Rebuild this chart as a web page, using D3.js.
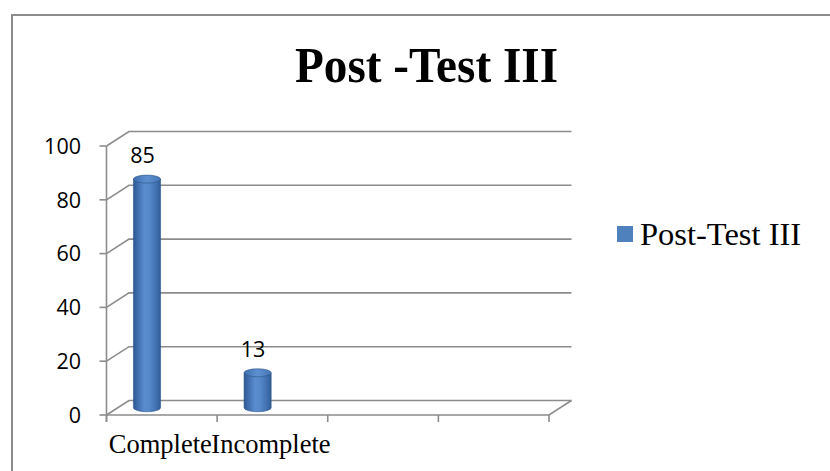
<!DOCTYPE html>
<html>
<head>
<meta charset="utf-8">
<script src="https://cdn.jsdelivr.net/npm/d3@7"></script>
<style>
  html, body { margin: 0; padding: 0; background: #ffffff; }
  svg { display: block; }
</style>
</head>
<body>
<svg id="chart" width="830" height="471"></svg>
<script>
// Data
const categories = ["Complete", "Incomplete", "", ""];
const values = [85, 13, null, null];
const yTicks = [0, 20, 40, 60, 80, 100];
const seriesName = "Post-Test III";
const titleText = "Post -Test III";

const svg = d3.select("#chart");

// Oblique 3D layout: front plane plus depth offset for the back wall
const left = 106.5, right = 549;
const depthX = 22.5, depthY = -14.5;
const gridColor = "#8c8c8c";

const y = d3.scaleLinear().domain([0, 100]).range([415, 146]);
const x = d3.scaleBand().domain(d3.range(categories.length)).range([left, right]).padding(0);
const bw = x.bandwidth();

// Outer frame
svg.append("rect")
  .attr("x", 12).attr("y", 15)
  .attr("width", 840).attr("height", 480)
  .attr("fill", "#ffffff")
  .attr("stroke", gridColor).attr("stroke-width", 2);

// Title
svg.append("text")
  .attr("x", 426.5).attr("y", 82)
  .attr("text-anchor", "middle")
  .attr("font-family", "'Liberation Serif', 'Times New Roman', serif")
  .attr("font-weight", "bold")
  .attr("font-size", 50)
  .attr("textLength", 263)
  .attr("lengthAdjust", "spacingAndGlyphs")
  .attr("fill", "#000")
  .text(titleText);

// Back wall gridlines with their diagonal connectors
const grid = svg.append("g")
  .attr("stroke", gridColor).attr("stroke-width", 1.6).attr("fill", "none");
yTicks.forEach(t => {
  const yy = y(t);
  grid.append("path")
    .attr("d", `M${left},${yy} L${left + depthX},${yy + depthY} L${right + depthX},${yy + depthY}`);
});
// Floor front edge and right diagonal
grid.append("path")
  .attr("d", `M${left},${y(0)} L${right},${y(0)} L${right + depthX},${y(0) + depthY}`);

// Value axis line and ticks
grid.append("line")
  .attr("x1", left).attr("x2", left)
  .attr("y1", y(100)).attr("y2", y(0) + 7);
yTicks.forEach(t => {
  grid.append("line")
    .attr("x1", left - 7).attr("x2", left)
    .attr("y1", y(t)).attr("y2", y(t));
});
// Category ticks
d3.range(categories.length + 1).forEach(i => {
  const xx = left + i * bw;
  grid.append("line")
    .attr("x1", xx).attr("x2", xx)
    .attr("y1", y(0)).attr("y2", y(0) + 7);
});

// Value tick labels
svg.append("g")
  .selectAll("text")
  .data(yTicks)
  .join("text")
  .attr("x", 81)
  .attr("y", d => y(d) + 2)
  .attr("text-anchor", "end")
  .attr("dominant-baseline", "middle")
  .attr("font-family", "'Open Sans', 'Liberation Sans', sans-serif")
  .attr("font-size", 21.5)
  .attr("fill", "#000")
  .text(d => d);

// Category labels
svg.append("g")
  .selectAll("text")
  .data(categories)
  .join("text")
  .attr("x", (d, i) => x(i) + bw / 2 - 1.5)
  .attr("y", 453)
  .attr("text-anchor", "middle")
  .attr("font-family", "'Liberation Serif', 'Times New Roman', serif")
  .attr("font-size", 26.5)
  .attr("fill", "#000")
  .text(d => d);

// Cylinder shading
const defs = svg.append("defs");
const grad = defs.append("linearGradient")
  .attr("id", "cyl").attr("x1", "0%").attr("x2", "100%").attr("y1", "0%").attr("y2", "0%");
[["0%", "#2d5a92"], ["18%", "#426fb0"], ["40%", "#5a8dcf"], ["60%", "#5587c9"], ["85%", "#3f6fad"], ["100%", "#2f5d97"]]
  .forEach(([o, c]) => grad.append("stop").attr("offset", o).attr("stop-color", c));
const topGrad = defs.append("linearGradient")
  .attr("id", "cyltop").attr("x1", "0%").attr("x2", "100%").attr("y1", "0%").attr("y2", "0%");
[["0%", "#3f6fae"], ["50%", "#5e8fcf"], ["100%", "#4676b5"]]
  .forEach(([o, c]) => topGrad.append("stop").attr("offset", o).attr("stop-color", c));

// Bars sit at mid-depth of the plot
const barCenterFrac = 0.366, barWidthFrac = 0.245;
const rx = bw * barWidthFrac / 2, ry = 4;
const barData = categories.map((c, i) => ({ c, v: values[i], i })).filter(d => d.v != null);
const bars = svg.append("g");
barData.forEach(d => {
  const cx = x(d.i) + bw * barCenterFrac;
  const yTop = y(d.v) + depthY / 2;
  const yBase = y(0) + depthY / 2;
  bars.append("path")
    .attr("d", `M${cx - rx},${yTop} L${cx - rx},${yBase} A${rx},${ry} 0 0 0 ${cx + rx},${yBase} L${cx + rx},${yTop} Z`)
    .attr("fill", "url(#cyl)")
    .attr("stroke", "#2c5588").attr("stroke-width", 0.6);
  bars.append("ellipse")
    .attr("cx", cx).attr("cy", yTop).attr("rx", rx).attr("ry", ry)
    .attr("fill", "url(#cyltop)")
    .attr("stroke", "#2c5588").attr("stroke-width", 0.6);
  // value label
  svg.append("text")
    .attr("x", cx - 4.5)
    .attr("y", yTop - 16)
    .attr("text-anchor", "middle")
    .attr("font-family", "'Open Sans', 'Liberation Sans', sans-serif")
    .attr("font-size", 21.5)
    .attr("fill", "#000")
    .text(d.v);
});

// Legend
const legend = svg.append("g");
legend.append("rect")
  .attr("x", 617).attr("y", 226)
  .attr("width", 16).attr("height", 16)
  .attr("fill", "#4f81bd");
legend.append("text")
  .attr("x", 640).attr("y", 245)
  .attr("font-family", "'Liberation Serif', 'Times New Roman', serif")
  .attr("font-size", 32.5)
  .attr("fill", "#000")
  .text(seriesName);
</script>
</body>
</html>
